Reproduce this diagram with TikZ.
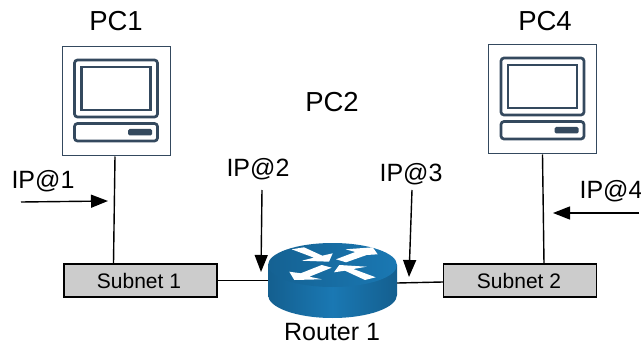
\documentclass[tikz,border=0pt]{standalone}
\usepackage{fontspec}
\setmainfont{Liberation Sans}
\usetikzlibrary{arrows.meta}
\definecolor{pcline}{HTML}{34495E}
\definecolor{rtop}{HTML}{1A78B3}
\definecolor{rdark}{HTML}{145F8F}
\tikzset{
  big/.style={font=\fontsize{25}{30}\selectfont, anchor=base, inner sep=0pt, text=black},
  pclabel/.style={big, font=\fontsize{27.5}{32}\selectfont},
  small/.style={font=\fontsize{21}{25}\selectfont, anchor=base, inner sep=0pt, text=black},
  subnetbox/.style={draw=black, line width=1.3pt, fill=black!20, minimum width=153pt, minimum height=33pt, inner sep=0pt},
  pcbox/.style={draw=pcline, line width=1pt, fill=white, minimum width=108pt, minimum height=109pt, inner sep=0pt},
  pcpart/.style={draw=pcline, line width=2.7pt, rounded corners=3pt},
  link/.style={draw=black, line width=1.4pt},
  pointer/.style={draw=black, line width=1.4pt, -{Triangle[length=17pt,width=13pt]}},
  rarrow/.style={fill=white, draw=none}
}
\begin{document}
\begin{tikzpicture}[x=1pt,y=-1pt]
\useasboundingbox (0,0) rectangle (641,345);
\clip (0,0) rectangle (641,345);
\fill[white] (0,0) rectangle (641,345);

% computers
\node[pcbox] (pc1) at (116,101.5) {};
\node[pcbox] (pc4) at (542.5,99.5) {};
\foreach \cx/\cy in {116/101.5,542.5/99.5}{
  \begin{scope}[shift={(\cx,\cy)}]
    \draw[pcpart] (-41.5,-41.5) rectangle (41.5,15.5);
    \draw[draw=pcline, line width=2.7pt] (-34.5,-34.5) rectangle (34.5,8.5);
    \draw[pcpart] (-41.5,22) rectangle (41.5,39.5);
    \fill[pcline, rounded corners=1.5pt] (12,27.5) rectangle (36,34);
  \end{scope}
}

% subnets
\node[subnetbox] (s1) at (140.5,280.5) {};
\node[subnetbox] (s2) at (520,280.5) {};
\node[small] (s1t) at (139,288) {Subnet 1};
\node[small] (s2t) at (519,288) {Subnet 2};

% router
\node[minimum width=129pt, minimum height=75pt, inner sep=0pt] (router) at (332.5,280.5) {};

\draw[link] ([xshift=-1pt]pc1.south) -- ([xshift=-27pt]s1.north);
\draw[link] ([xshift=0pt]pc4.south) -- ([xshift=24pt]s2.north);
\draw[link] (s1.east) -- (router.west);
\draw[link] ([yshift=-2.5pt]router.east) -- ([yshift=-1.5pt]s2.west);

\shade[left color=rdark, right color=rdark, middle color=rtop]
  (268,265) -- (268,295) arc[start angle=180,end angle=0,x radius=64.5,y radius=23] -- (397,265) -- cycle;
\shade[left color=rdark!90!rtop, right color=rtop]
  (332.5,265) ellipse[x radius=64.5,y radius=22];
\fill[rarrow] (291.7,249.3)--(304,247.3)--(322.3,255.7)--(332.7,253.3)--(329,261.7)--(301.7,260.7)--(314,257.7)--cycle;
\fill[rarrow] (336,259.3)--(355.3,252)--(345.7,249.3)--(372.7,247.3)--(377.7,254.3)--(366.7,255)--(346,262.3)--cycle;
\fill[rarrow] (321.7,265)--(300.7,273.3)--(289.3,271.7)--(294.3,280)--(321.7,279.3)--(309.3,276.7)--(331.7,267.7)--cycle;
\fill[rarrow] (334,272.3)--(339.3,265)--(366.7,266.7)--(353.3,269)--(375.7,277.3)--(365,280)--(345,270.7)--cycle;

% pointers
\coordinate (a1s) at (21,202); \coordinate (a1e) at (108,201);
\coordinate (a2s) at (262,190); \coordinate (a2e) at (261,272);
\coordinate (a3s) at (412,190); \coordinate (a3e) at (409,277);
\coordinate (a4s) at (639,213); \coordinate (a4e) at (553,213);
\draw[pointer] (a1s) -- (a1e);
\draw[pointer] (a2s) -- (a2e);
\draw[pointer] (a3s) -- (a3e);
\draw[pointer] (a4s) -- (a4e);

% labels
\node[pclabel] (l1) at (116,31) {PC1};
\node[pclabel] (l2) at (332,112) {PC2};
\node[pclabel] (l4) at (545,31) {PC4};
\node[big] (i1) at (43,189) {IP@1};
\node[big] (i2) at (258,177) {IP@2};
\node[big] (i3) at (411,182) {IP@3};
\node[big] (i4) at (611,199) {IP@4};
\node[big] (r1) at (332,340) {Router 1};
\end{tikzpicture}
\end{document}
